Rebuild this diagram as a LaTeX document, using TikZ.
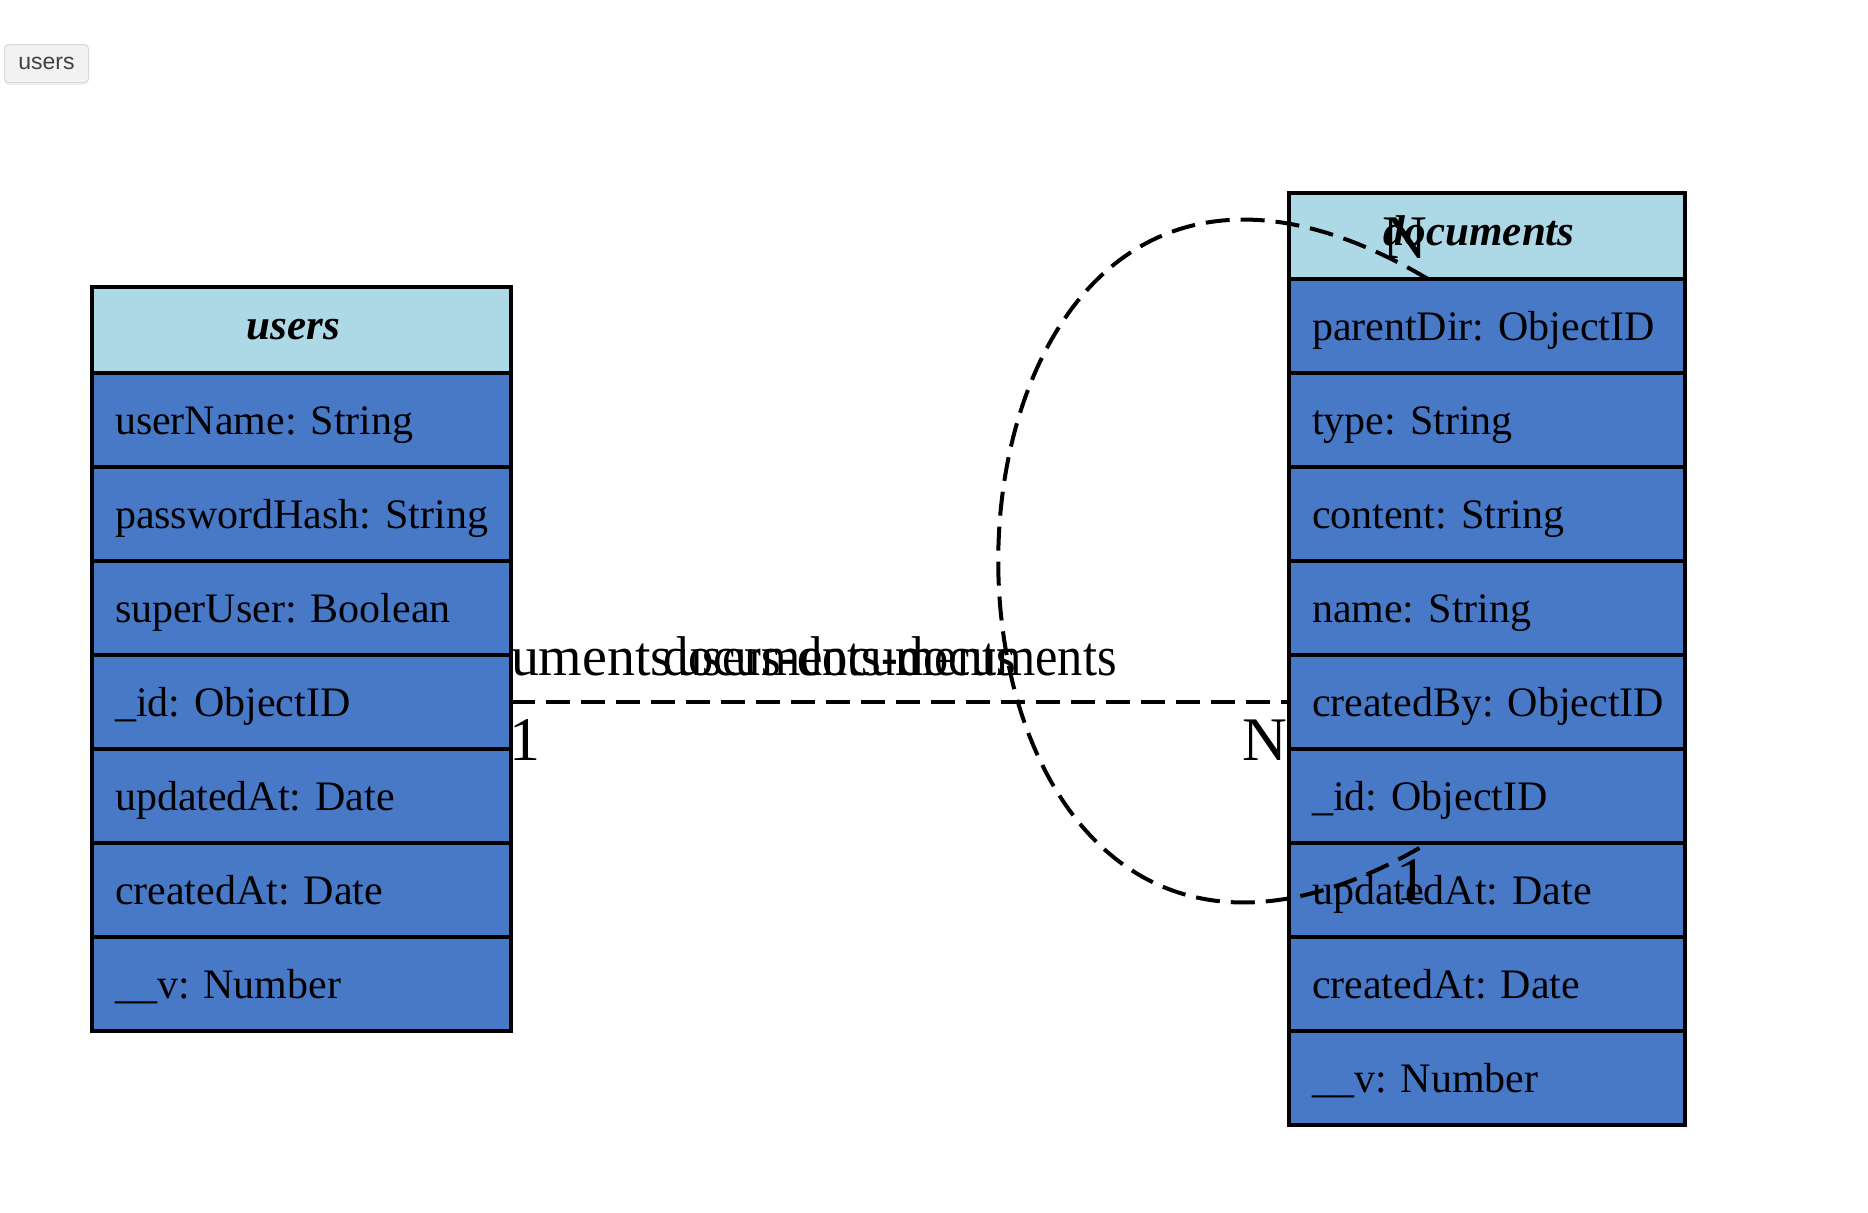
\documentclass[tikz,border=0pt]{standalone}
\usepackage{fontspec}
\setmainfont{Liberation Serif}
\setsansfont{Liberation Sans}
\usetikzlibrary{positioning, calc, shadows}
\definecolor{hdrblue}{HTML}{ADD8E6}
\definecolor{fldblue}{HTML}{4879C7}
\frenchspacing
\begin{document}
\begin{tikzpicture}[x=0.5pt, y=-0.5pt, node distance=0pt,
  tbl/.style={rectangle, draw=black, line width=1.75pt, outer sep=0pt, inner xsep=11.5pt, inner ysep=0pt},
  hdr/.style={tbl, fill=hdrblue, minimum height=43pt, align=center, text height=11pt, text depth=1.5pt,
              font=\fontsize{21.5}{25}\selectfont\bfseries\itshape},
  fld/.style={tbl, fill=fldblue, minimum height=47pt, align=left, text height=15pt, text depth=1pt,
              font=\fontsize{21}{25}\selectfont,
              execute at begin node={\hbox\bgroup}, execute at end node={\egroup}},
  ucol/.style={text width=186.5pt},
  dcol/.style={text width=175pt},
  rel/.style={black, line width=2pt, dash pattern=on 12pt off 5.5pt},
  card/.style={inner sep=0pt, font=\fontsize{31}{31}\selectfont},
  lbl/.style={inner sep=0pt, xscale=0.9, font=\fontsize{28}{28}\selectfont},
  btn/.style={rectangle, rounded corners=2pt, fill=black!5, draw=black!15, line width=0.5pt,
              minimum width=42pt, minimum height=19pt, inner sep=0pt, text=black!75,
              font=\sffamily\fontsize{11.5}{12}\selectfont,
              drop shadow={opacity=0.12, shadow xshift=0pt, shadow yshift=-1.2pt}}]
  \useasboundingbox (0,0) rectangle (1868,1212);
  \node[btn, anchor=north west] (ubtn) at (4,44) {users};
  % label that ends up under the users table
  \node[lbl, xscale=1.11, anchor=base east] (lblhid) at (673,675) {users-documents};
  % users
  \node[hdr, ucol, anchor=north west] (uhdr) at (92,287) {users\kern8pt};
  \node[fld, ucol, below=of uhdr] (uname) {userName: String};
  \node[fld, ucol, below=of uname] (upass) {passwordHash: String};
  \node[fld, ucol, below=of upass] (usuper) {superUser: Boolean};
  \node[fld, ucol, below=of usuper] (uid) {\_id: ObjectID};
  \node[fld, ucol, below=of uid] (uupd) {updatedAt: Date};
  \node[fld, ucol, below=of uupd] (ucre) {createdAt: Date};
  \node[fld, ucol, below=of ucre] (uv) {\_\_v: Number};
  % documents
  \node[hdr, dcol, anchor=north west] (dhdr) at (1289,193) {documents\kern8pt};
  \node[fld, dcol, below=of dhdr] (dparent) {parentDir: ObjectID};
  \node[fld, dcol, below=of dparent] (dtype) {type: String};
  \node[fld, dcol, below=of dtype] (dcontent) {content: String};
  \node[fld, dcol, below=of dcontent] (dname) {name: String};
  \node[fld, dcol, below=of dname] (dcby) {createdBy: ObjectID};
  \node[fld, dcol, below=of dcby] (did) {\_id: ObjectID};
  \node[fld, dcol, below=of did] (dupd) {updatedAt: Date};
  \node[fld, dcol, below=of dupd] (dcre) {createdAt: Date};
  \node[fld, dcol, below=of dcre] (dv) {\_\_v: Number};
  % relations
  \draw[rel] (uid.east) -- (dcby.west);
  \coordinate (lpa) at ($(dhdr.south west)!0.351!(dhdr.south east)$);
  \coordinate (lpb) at ($(dupd.north west)!0.351!(dupd.north east)$);
  \draw[rel] (lpa) .. controls +(-573,-340) and +(-573,340) .. (lpb);
  \node[lbl, anchor=base west] (lblud) at (677,675) {users-documents};
  \node[lbl, anchor=base east] (lbldd) at (1117,675) {documents-documents};
  \node[card] (c1) at (525,740) {1};
  \node[card] (cn) at (1265,740) {N};
  \node[card] (ln) at (1405,238) {N};
  \node[card] (l1) at (1412,880) {1};
\end{tikzpicture}
\end{document}
